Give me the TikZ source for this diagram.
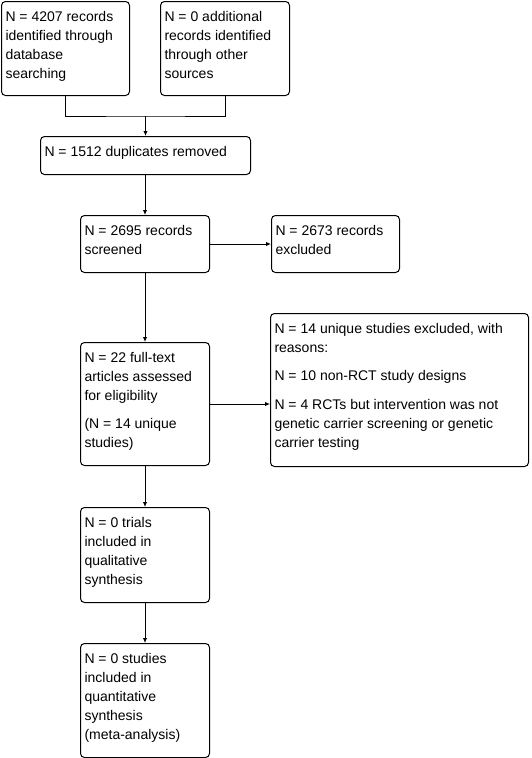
\documentclass[tikz,border=0pt]{standalone}
\usepackage{fontspec}
\setmainfont{Liberation Sans}
\usetikzlibrary{arrows.meta}
\newcommand{\bxt}[3]{\parbox[c][#2pt][t]{#1pt}{\raggedright\rule{0pt}{19.5pt}#3}}
\begin{document}
\begin{tikzpicture}[x=1pt,y=-1pt,
  every node/.style={font=\fontsize{14}{19}\selectfont},
  flowbox/.style={draw=black, line width=1pt, rounded corners=4pt, anchor=north west,
    inner xsep=4pt, inner ysep=0pt, fill=white},
  conn/.style={draw=black, line width=1pt},
  arr/.style={conn, -{Latex[length=5pt,width=4.5pt]}}]
\useasboundingbox (0,0) rectangle (531,758);
\fill[white] (0,0) rectangle (531,758);
\node[flowbox] (b1) at (1,1) {\bxt{120}{94}{N = 4207 records\\identified through\\database\\searching}};
\node[flowbox] (b2) at (160,1) {\bxt{121}{94}{N = 0 additional\\records identified\\through other\\sources}};
\node[flowbox] (b3) at (40,136) {\bxt{202}{38}{N = 1512 duplicates removed}};
\node[flowbox] (b4) at (80,215) {\bxt{121}{57}{N = 2695 records\\screened}};
\node[flowbox] (b5) at (271,215) {\bxt{120}{57}{N = 2673 records\\excluded}};
\node[flowbox] (b6) at (80,342) {\bxt{121}{123}{N = 22 full-text\\articles assessed\\for eligibility\\[9.5pt](N = 14 unique\\studies)}};
\node[flowbox] (b7) at (270,313) {\bxt{250}{153}{N = 14 unique studies excluded, with\\reasons:\\[9.5pt]N = 10 non-RCT study designs\\[9.5pt]N = 4 RCTs but intervention was not\\genetic carrier screening or genetic\\carrier testing}};
\node[flowbox] (b8) at (80,507) {\bxt{121}{95}{N = 0 trials\\included in\\qualitative\\synthesis}};
\node[flowbox] (b9) at (80,643) {\bxt{121}{114}{N = 0 studies\\included in\\quantitative\\synthesis\\(meta-analysis)}};
\coordinate (j) at (b3.north |- 0,116);
\draw[conn] (b1.south) |- (j) -| (b2.south);
\draw[arr] (j) -- (b3.north);
\draw[arr] (b4.north |- b3.south) -- (b4.north);
\draw[arr] (b4.east) -- (b5.west);
\draw[arr] (b4.south) -- (b6.north);
\draw[arr] (b6.east) -- (b6.east -| b7.west);
\draw[arr] (b6.south) -- (b8.north);
\draw[arr] (b8.south) -- (b9.north);
\end{tikzpicture}
\end{document}
